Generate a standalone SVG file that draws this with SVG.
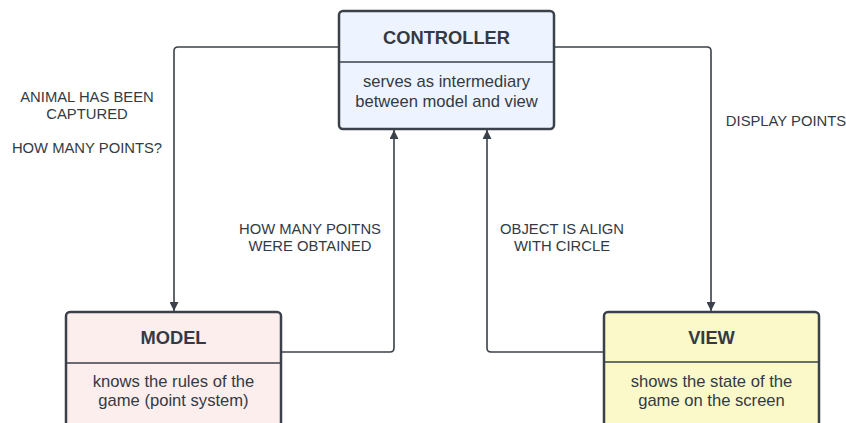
<svg xmlns="http://www.w3.org/2000/svg" width="846" height="423" viewBox="0 0 846 423">
<defs>
<marker id="arr" viewBox="0 0 10 10" refX="10" refY="5" markerWidth="9" markerHeight="9" markerUnits="userSpaceOnUse" orient="auto">
<path d="M0,0 L10,5 L0,10 Z" fill="#3a414a"/>
</marker>
<style>
.box{stroke:#3a414a;stroke-width:2.5}
.div{stroke:#3a414a;stroke-width:1.5}
.t{font-family:"Liberation Sans",Arial,sans-serif;font-weight:bold;font-size:18.3px;fill:#333a44;text-anchor:middle}
.b{font-family:"Liberation Sans",Arial,sans-serif;font-size:16.6px;fill:#333a44;text-anchor:middle}
.l{font-family:"Liberation Sans",Arial,sans-serif;font-size:14.8px;fill:#333a44;text-anchor:middle}
.c{fill:none;stroke:#3a414a;stroke-width:1.6}
</style>
</defs>
<rect width="846" height="423" fill="#ffffff"/>
<g id="connectors">
<path class="c" d="M338,47 H178 Q174,47 174,51 V311" marker-end="url(#arr)"/>
<path class="c" d="M281,352 H390 Q394,352 394,348 V130" marker-end="url(#arr)"/>
<path class="c" d="M603,352 H491 Q487,352 487,348 V130" marker-end="url(#arr)"/>
<path class="c" d="M554,47 H707 Q711,47 711,51 V311" marker-end="url(#arr)"/>
</g>
<g id="controller">
<rect class="box" x="339" y="11" width="215" height="118" rx="4" fill="#edf4ff"/>
<line class="div" x1="339" y1="62" x2="554" y2="62"/>
<text class="t" x="446.5" y="44">CONTROLLER</text>
<text class="b" x="446.5" y="87">serves as intermediary</text>
<text class="b" x="446.5" y="107">between model and view</text>
</g>
<g id="model">
<rect class="box" x="66" y="312" width="215" height="130" rx="4" fill="#fdeeee"/>
<line class="div" x1="66" y1="363" x2="281" y2="363"/>
<text class="t" x="173.5" y="344">MODEL</text>
<text class="b" x="173.5" y="387">knows the rules of the</text>
<text class="b" x="173.5" y="406">game (point system)</text>
</g>
<g id="view">
<rect class="box" x="604" y="312" width="215" height="130" rx="4" fill="#fbf9c9"/>
<line class="div" x1="604" y1="362" x2="819" y2="362"/>
<text class="t" x="711.5" y="344">VIEW</text>
<text class="b" x="711.5" y="387">shows the state of the</text>
<text class="b" x="711.5" y="406">game on the screen</text>
</g>
<g id="labels">
<text class="l" x="87" y="102">ANIMAL HAS BEEN</text>
<text class="l" x="87" y="119">CAPTURED</text>
<text class="l" x="87" y="153">HOW MANY POINTS?</text>
<text class="l" x="310" y="234">HOW MANY POITNS</text>
<text class="l" x="310" y="251">WERE OBTAINED</text>
<text class="l" x="562" y="234">OBJECT IS ALIGN</text>
<text class="l" x="562" y="251">WITH CIRCLE</text>
<text class="l" x="786" y="126">DISPLAY POINTS</text>
</g>
</svg>
